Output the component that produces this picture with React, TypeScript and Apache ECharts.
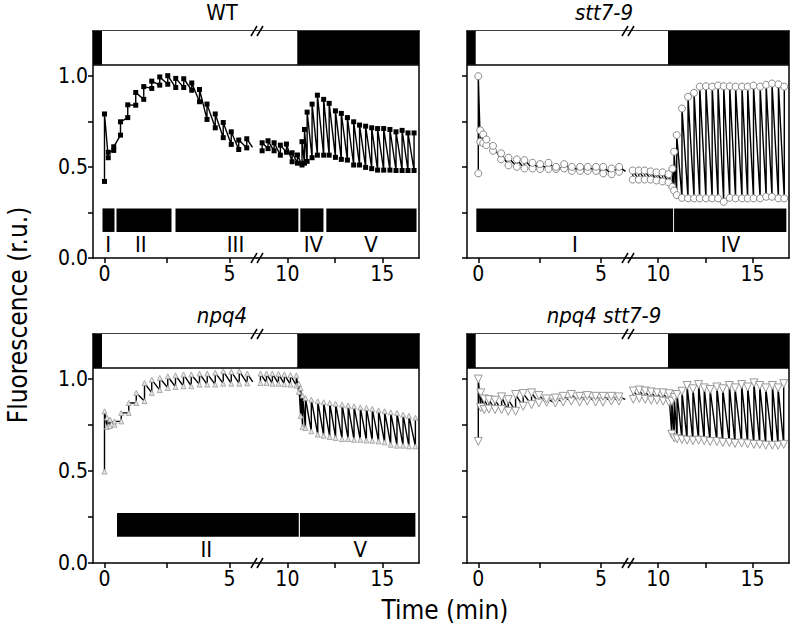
import React, { useEffect, useRef } from "react";
import * as echarts from "echarts";

// ---------- data: [time (min), lower value, upper value] ----------
const wtLeft: number[][] = [
  [0.0, 0.42, 0.79], [0.15, 0.55, 0.58], [0.37, 0.59, 0.61], [0.64, 0.674, 0.747],
  [0.93, 0.77, 0.84], [1.25, 0.838, 0.908], [1.57, 0.87, 0.94], [1.89, 0.93, 0.97],
  [2.21, 0.948, 0.993], [2.53, 0.953, 1.0], [2.85, 0.935, 0.985], [3.17, 0.935, 0.983],
  [3.49, 0.92, 0.96], [3.8, 0.857, 0.924], [4.1, 0.76, 0.844], [4.43, 0.714, 0.79],
  [4.75, 0.66, 0.743], [5.07, 0.623, 0.692], [5.37, 0.595, 0.647], [5.69, 0.604, 0.654],
];
const wtLeftTail = [5.92, 0.607];
const wtRight: number[][] = [
  [8.67, 0.588, 0.632], [8.98, 0.6, 0.643], [9.3, 0.588, 0.632], [9.63, 0.564, 0.619],
  [9.95, 0.58, 0.625], [10.25, 0.528, 0.577], [10.53, 0.52, 0.565], [10.77, 0.51, 0.638],
  [10.9, 0.52, 0.705], [11.04, 0.53, 0.8], [11.3, 0.55, 0.844], [11.58, 0.564, 0.893],
  [11.91, 0.564, 0.87], [12.2, 0.564, 0.848], [12.53, 0.552, 0.807], [12.84, 0.541, 0.793],
  [13.16, 0.537, 0.77], [13.49, 0.51, 0.747], [13.8, 0.51, 0.729], [14.12, 0.497, 0.723],
  [14.44, 0.49, 0.714], [14.75, 0.482, 0.71], [15.07, 0.482, 0.71], [15.4, 0.482, 0.705],
  [15.72, 0.48, 0.692], [16.04, 0.48, 0.7], [16.35, 0.48, 0.686], [16.67, 0.48, 0.686],
];

const stt7Left: number[][] = [
  [0.0, 0.464, 0.997], [0.08, 0.637, 0.7], [0.2, 0.63, 0.678], [0.33, 0.619, 0.65],
  [0.6, 0.588, 0.615], [0.93, 0.541, 0.574], [1.23, 0.508, 0.55], [1.57, 0.5, 0.541],
  [1.88, 0.491, 0.537], [2.21, 0.491, 0.522], [2.52, 0.488, 0.515], [2.86, 0.488, 0.522],
  [3.17, 0.488, 0.5], [3.5, 0.491, 0.515], [3.81, 0.478, 0.5], [4.15, 0.478, 0.5],
  [4.46, 0.478, 0.5], [4.8, 0.478, 0.5], [5.09, 0.464, 0.5], [5.43, 0.46, 0.491],
  [5.74, 0.473, 0.5],
];
const stt7LeftTail = [6.0, 0.475];
const stt7Right: number[][] = [
  [8.65, 0.43, 0.48], [8.97, 0.43, 0.48], [9.28, 0.43, 0.48], [9.6, 0.43, 0.475],
  [9.91, 0.425, 0.47], [10.23, 0.42, 0.47], [10.55, 0.415, 0.46], [10.75, 0.39, 0.49],
  [10.84, 0.37, 0.583], [10.98, 0.345, 0.674], [11.26, 0.33, 0.82], [11.58, 0.327, 0.884],
  [11.9, 0.327, 0.906], [12.2, 0.327, 0.94], [12.53, 0.327, 0.942], [12.86, 0.327, 0.94],
  [13.17, 0.327, 0.946], [13.47, 0.308, 0.942], [13.79, 0.33, 0.942], [14.1, 0.327, 0.94],
  [14.44, 0.327, 0.94], [14.74, 0.327, 0.94], [15.05, 0.327, 0.946], [15.4, 0.327, 0.94],
  [15.72, 0.336, 0.95], [16.03, 0.336, 0.957], [16.37, 0.327, 0.953], [16.68, 0.327, 0.94],
];

const npq4Left: number[][] = [
  [0.0, 0.497, 0.825], [0.1, 0.74, 0.79], [0.22, 0.745, 0.78], [0.4, 0.752, 0.77],
  [0.67, 0.77, 0.816], [0.97, 0.816, 0.87], [1.27, 0.87, 0.925], [1.6, 0.88, 0.979],
  [1.89, 0.925, 0.997], [2.21, 0.94, 1.006], [2.53, 0.952, 1.015], [2.84, 0.957, 1.02],
  [3.16, 0.961, 1.025], [3.47, 0.961, 1.025], [3.8, 0.97, 1.03], [4.11, 0.97, 1.03],
  [4.43, 0.97, 1.035], [4.75, 0.975, 1.043], [5.07, 0.975, 1.04], [5.39, 0.975, 1.043],
  [5.71, 0.977, 1.03],
];
const npq4LeftTail = [5.93, 0.985];
const npq4Right: number[][] = [
  [8.58, 0.979, 1.03], [8.9, 0.979, 1.03], [9.21, 0.975, 1.03], [9.53, 0.975, 1.028],
  [9.84, 0.972, 1.025], [10.16, 0.97, 1.022], [10.47, 0.965, 1.02], [10.6, 0.93, 0.975],
  [10.7, 0.8, 0.95], [10.8, 0.74, 0.91], [10.95, 0.734, 0.897], [11.26, 0.716, 0.888],
  [11.6, 0.698, 0.879], [11.91, 0.692, 0.874], [12.23, 0.685, 0.87], [12.54, 0.68, 0.865],
  [12.88, 0.674, 0.861], [13.2, 0.674, 0.856], [13.51, 0.67, 0.852], [13.84, 0.67, 0.846],
  [14.16, 0.666, 0.843], [14.47, 0.665, 0.838], [14.8, 0.661, 0.83], [15.12, 0.656, 0.825],
  [15.44, 0.643, 0.819], [15.77, 0.638, 0.816], [16.09, 0.638, 0.807], [16.4, 0.634, 0.8],
  [16.74, 0.634, 0.79],
];

const dblLeft: number[][] = [
  [0.0, 0.661, 1.0], [0.1, 0.845, 0.925], [0.24, 0.834, 0.892], [0.43, 0.837, 0.888],
  [0.68, 0.834, 0.885], [0.95, 0.834, 0.903], [1.22, 0.825, 0.888], [1.52, 0.825, 0.916],
  [1.83, 0.852, 0.921], [2.17, 0.861, 0.925], [2.47, 0.87, 0.91], [2.78, 0.874, 0.892],
  [3.14, 0.87, 0.897], [3.46, 0.875, 0.906], [3.79, 0.88, 0.916], [4.13, 0.875, 0.906],
  [4.44, 0.88, 0.91], [4.78, 0.875, 0.906], [5.08, 0.875, 0.906], [5.42, 0.88, 0.906],
  [5.73, 0.88, 0.903],
];
const dblLeftTail = [5.99, 0.89];
const dblRight: number[][] = [
  [8.68, 0.89, 0.935], [9.0, 0.895, 0.94], [9.31, 0.89, 0.935], [9.63, 0.885, 0.93],
  [9.94, 0.885, 0.925], [10.26, 0.88, 0.925], [10.57, 0.875, 0.92], [10.72, 0.7, 0.88],
  [10.85, 0.68, 0.9], [11.0, 0.675, 0.916], [11.26, 0.672, 0.934], [11.53, 0.668, 0.965],
  [11.84, 0.665, 0.947], [12.14, 0.668, 0.97], [12.44, 0.665, 0.952], [12.75, 0.66, 0.943],
  [13.11, 0.66, 0.957], [13.42, 0.655, 0.947], [13.77, 0.655, 0.965], [14.07, 0.65, 0.952],
  [14.42, 0.652, 0.97], [14.74, 0.648, 0.957], [15.07, 0.645, 0.979], [15.38, 0.645, 0.965],
  [15.7, 0.64, 0.952], [16.05, 0.64, 0.965], [16.35, 0.64, 0.952], [16.65, 0.645, 0.975],
];

// phases: [start, end] (min), names, label times
const wtPhases: number[][] = [[-0.08, 0.4], [0.48, 2.68], [2.84, 10.58], [10.68, 11.9], [12.05, 16.8]];
const wtPhaseNames = ["I", "II", "III", "IV", "V"];
const wtPhaseLabelT = [0.15, 1.45, 5.24, 11.37, 14.4];
const stt7Phases: number[][] = [[-0.08, 10.79], [10.84, 16.79]];
const stt7PhaseNames = ["I", "IV"];
const stt7PhaseLabelT = [3.94, 13.83];
const npq4Phases: number[][] = [[0.5, 10.6], [10.66, 16.74]];
const npq4PhaseNames = ["II", "V"];
const npq4PhaseLabelT = [4.07, 13.84];

const panelTitles = ["WT", "stt7-9", "npq4", "npq4 stt7-9"];
const LIGHT_ON = [-0.1, 10.52];
const X_TICKS_L = [0, 2.5, 5];
const X_LABELS_L = [0, 5];
const X_TICKS_R = [10, 12.5, 15];
const X_LABELS_R = [10, 15];
const Y_TICKS = [0, 0.25, 0.5, 0.75, 1.0];
const Y_LABELS = [0, 0.5, 1.0];

// ---------- layout ----------
const FONT = '"Liberation Sans Narrow", "Arial Narrow", "DejaVu Sans Condensed", "Liberation Sans", Arial, sans-serif';
const LEFT_MIN = -0.46, LEFT_MAX = 6.1, RIGHT_MIN = 8.4, RIGHT_MAX = 16.93;
const Y_MAX = 1.245, STRIP_Y = 1.06;
const PHASE_BAR = [0.143, 0.272];
const PHASE_LABEL_Y = 0.075;
const COLS = [{ x0: 93, xb: 257, x1: 419, tx: 222 }, { x0: 467, xb: 628, x1: 789, tx: 604 }];
const ROWS = [{ top: 31, bottom: 258, ty: 12 }, { top: 334, bottom: 563, ty: 315 }];
const AX = { color: "#000", width: 1.5 };
const TICK_FS = 21;

const panels = [
  { col: 0, row: 0, title: panelTitles[0], italic: false, left: wtLeft, leftTail: wtLeftTail, right: wtRight,
    phases: wtPhases, names: wtPhaseNames, labelT: wtPhaseLabelT,
    sym: { symbol: "rect", symbolSize: 5, itemStyle: { color: "#000" } } },
  { col: 1, row: 0, title: panelTitles[1], italic: true, left: stt7Left, leftTail: stt7LeftTail, right: stt7Right,
    phases: stt7Phases, names: stt7PhaseNames, labelT: stt7PhaseLabelT,
    sym: { symbol: "circle", symbolSize: 7, itemStyle: { color: "#fff", borderColor: "#888", borderWidth: 1 } } },
  { col: 0, row: 1, title: panelTitles[2], italic: true, left: npq4Left, leftTail: npq4LeftTail, right: npq4Right,
    phases: npq4Phases, names: npq4PhaseNames, labelT: npq4PhaseLabelT,
    sym: { symbol: "triangle", symbolSize: 5, itemStyle: { color: "#e6e6e6", borderColor: "#999", borderWidth: 0.8 } } },
  { col: 1, row: 1, title: panelTitles[3], italic: true, left: dblLeft, leftTail: dblLeftTail, right: dblRight,
    phases: [] as number[][], names: [] as string[], labelT: [] as number[],
    sym: { symbol: "triangle", symbolSize: 8, symbolRotate: 180, itemStyle: { color: "#fff", borderColor: "#999", borderWidth: 1 } } },
];

function zig(rows: number[][], tail?: number[]) {
  const out: any[] = [];
  rows.forEach(([t, lo, hi]) => {
    out.push([t, lo]);
    out.push([t, hi]);
  });
  if (tail) out.push({ value: tail, symbol: "none" });
  return out;
}

function buildOption() {
  const grid: any[] = [], xAxis: any[] = [], yAxis: any[] = [], series: any[] = [], graphic: any[] = [];
  panels.forEach((p) => {
    const c = COLS[p.col], r = ROWS[p.row];
    const segs = [
      { x: c.x0, w: c.xb - c.x0, min: LEFT_MIN, max: LEFT_MAX, ticks: X_TICKS_L, labels: X_LABELS_L, data: zig(p.left, p.leftTail), first: true },
      { x: c.xb, w: c.x1 - c.xb, min: RIGHT_MIN, max: RIGHT_MAX, ticks: X_TICKS_R, labels: X_LABELS_R, data: zig(p.right), first: false },
    ];
    segs.forEach((s) => {
      const gi = grid.length;
      grid.push({ left: s.x, top: r.top, width: s.w, height: r.bottom - r.top, containLabel: false, outerBoundsMode: "none" });
      const xi = xAxis.length;
      xAxis.push({
        type: "value", gridIndex: gi, min: s.min, max: s.max, position: "bottom",
        axisLine: { show: true, onZero: false, lineStyle: AX },
        axisTick: { show: true, inside: false, length: 5, lineStyle: AX, customValues: s.ticks },
        axisLabel: { show: true, customValues: s.labels, color: "#000", fontSize: TICK_FS, fontFamily: FONT, margin: 5 },
        splitLine: { show: false },
      });
      xAxis.push({
        type: "value", gridIndex: gi, min: s.min, max: s.max, position: "top",
        axisLine: { show: true, onZero: false, lineStyle: AX },
        axisTick: { show: false }, axisLabel: { show: false }, splitLine: { show: false },
      });
      const yi = yAxis.length;
      if (s.first) {
        yAxis.push({
          type: "value", gridIndex: gi, min: 0, max: Y_MAX, position: "left",
          axisLine: { show: true, onZero: false, lineStyle: AX },
          axisTick: { show: true, inside: false, length: 5, lineStyle: AX, customValues: Y_TICKS },
          axisLabel: {
            show: p.col === 0, customValues: Y_LABELS, color: "#000", fontSize: TICK_FS, fontFamily: FONT, margin: 5,
            formatter: (v: number) => v.toFixed(1),
          },
          splitLine: { show: false },
        });
      } else {
        yAxis.push({
          type: "value", gridIndex: gi, min: 0, max: Y_MAX, position: "right",
          axisLine: { show: true, onZero: false, lineStyle: AX },
          axisTick: { show: false }, axisLabel: { show: false }, splitLine: { show: false },
        });
      }
      // light strip
      const areas: any[] = [];
      const addArea = (a: number, b: number, style: any) => {
        const lo = Math.max(a, s.min), hi = Math.min(b, s.max);
        if (hi > lo) areas.push([{ xAxis: lo, yAxis: STRIP_Y, itemStyle: style }, { xAxis: hi, yAxis: Y_MAX }]);
      };
      addArea(s.min, LIGHT_ON[0], { color: "#000" });
      addArea(LIGHT_ON[0], LIGHT_ON[1], { color: "#fff" });
      addArea(LIGHT_ON[1], s.max, { color: "#000" });
      p.phases.forEach(([a, b]) => {
        const lo = Math.max(a, s.min), hi = Math.min(b, s.max);
        if (hi > lo) areas.push([{ xAxis: lo, yAxis: PHASE_BAR[0], itemStyle: { color: "#000" } }, { xAxis: hi, yAxis: PHASE_BAR[1] }]);
      });
      series.push({
        type: "line", xAxisIndex: xi, yAxisIndex: yi, data: s.data,
        symbol: p.sym.symbol, symbolSize: p.sym.symbolSize, symbolRotate: (p.sym as any).symbolRotate || 0,
        showSymbol: true, itemStyle: p.sym.itemStyle,
        lineStyle: { color: "#000", width: 1.4 }, z: 3, silent: true,
        markArea: { silent: true, data: areas, label: { show: false } },
        markLine: {
          silent: true, symbol: ["none", "none"], label: { show: false },
          lineStyle: { color: "#000", width: 1.5, type: "solid" },
          data: [{ yAxis: STRIP_Y }],
        },
      });
      const lab = p.names
        .map((n, i) => ({ name: n, value: [p.labelT[i], PHASE_LABEL_Y] }))
        .filter((d) => d.value[0] >= s.min && d.value[0] <= s.max);
      if (lab.length) {
        series.push({
          type: "scatter", xAxisIndex: xi, yAxisIndex: yi, data: lab, symbolSize: 0.1, silent: true, z: 5,
          itemStyle: { color: "#fff", opacity: 1 },
          label: {
            show: true, position: "inside", formatter: "{b}", color: "#000", opacity: 1,
            textBorderWidth: 0, fontSize: 22, fontFamily: FONT,
          },
        });
      }
    });
    // title
    graphic.push({
      type: "text", x: c.tx, y: r.ty,
      style: { text: p.title, fontSize: 22, fontFamily: FONT, fontStyle: p.italic ? "italic" : "normal", fill: "#000", textAlign: "center", textVerticalAlign: "middle" },
    });
    // break marks
    [r.top, r.bottom].forEach((yy) => {
      [-3, 3].forEach((d) => {
        graphic.push({ type: "line", shape: { x1: c.xb + d - 3, y1: yy + 5, x2: c.xb + d + 3, y2: yy - 5 }, style: { stroke: "#000", lineWidth: 1.5 }, z: 10 });
      });
    });
  });
  graphic.push({
    type: "text", x: 18, y: 315, rotation: Math.PI / 2,
    style: { text: "Fluorescence (r.u.)", fontSize: 26, fontFamily: FONT, fill: "#000", textAlign: "center", textVerticalAlign: "middle" },
  });
  graphic.push({
    type: "text", x: 445, y: 610,
    style: { text: "Time (min)", fontSize: 26, fontFamily: FONT, fill: "#000", textAlign: "center", textVerticalAlign: "middle" },
  });
  return { animation: false, textStyle: { fontFamily: FONT }, grid, xAxis, yAxis, series, graphic };
}

export default function App() {
  const ref = useRef<HTMLDivElement>(null);
  useEffect(() => {
    document.body.style.margin = "0";
    if (!ref.current) return;
    const chart = echarts.init(ref.current, null, { renderer: "svg" });
    chart.setOption(buildOption() as any);
    return () => chart.dispose();
  }, []);
  return <div ref={ref} style={{ width: 796, height: 633, background: "#fff" }} />;
}
